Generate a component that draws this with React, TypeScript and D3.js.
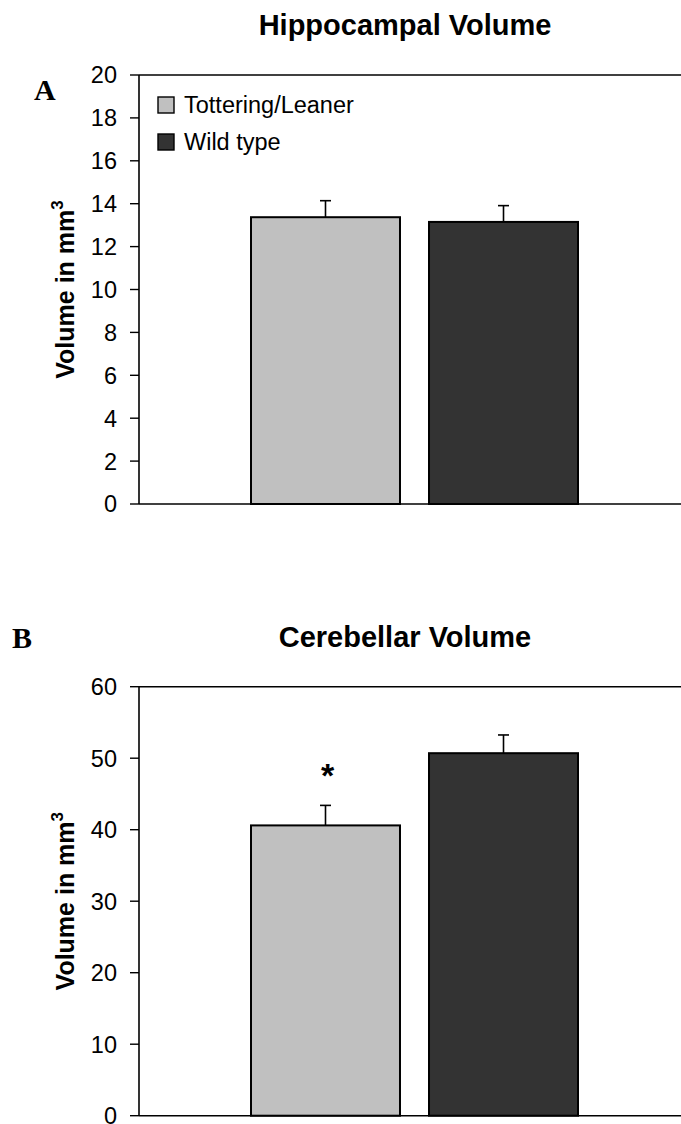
import React from "react";
import * as d3 from "d3";

const series = ["Tottering/Leaner", "Wild type"];
const seriesColors = ["#c0c0c0", "#333333"];

const hippoMeans = [13.37, 13.15];
const hippoErrors = [0.77, 0.76];
const hippoTicks = [0, 2, 4, 6, 8, 10, 12, 14, 16, 18, 20];
const hippoMarks = ["", ""];

const cerebMeans = [40.6, 50.7];
const cerebErrors = [2.8, 2.55];
const cerebTicks = [0, 10, 20, 30, 40, 50, 60];
const cerebMarks = ["*", ""];

const W = 681;
const H = 1124;
const SANS = "'Liberation Sans', Arial, sans-serif";
const SERIF = "'Liberation Serif', 'Times New Roman', serif";

type PanelProps = {
  title: string;
  letter: string;
  letterX: number;
  letterY: number;
  titleY: number;
  top: number;
  bottom: number;
  means: number[];
  errors: number[];
  ticks: number[];
  marks: string[];
  legend: boolean;
};

function Panel(p: PanelProps) {
  const left = 139;
  const right = 690;
  const y = d3
    .scaleLinear()
    .domain([0, d3.max(p.ticks) as number])
    .range([p.bottom, p.top]);
  const x = d3
    .scaleBand<string>()
    .domain(series)
    .range([251, 578])
    .paddingInner(0.163);
  const bw = x.bandwidth();
  return (
    <g>
      <text
        x={p.letterX}
        y={p.letterY}
        fontFamily={SERIF}
        fontWeight="bold"
        fontSize={30}
        fill="#000"
      >
        {p.letter}
      </text>
      <text
        x={405}
        y={p.titleY}
        textAnchor="middle"
        fontFamily={SANS}
        fontWeight="bold"
        fontSize={29}
        fill="#000"
      >
        {p.title}
      </text>
      {/* axis title */}
      <text
        transform={`translate(74,${(p.top + p.bottom) / 2}) rotate(-90)`}
        textAnchor="middle"
        fontFamily={SANS}
        fontWeight="bold"
        fontSize={25}
        fill="#000"
      >
        Volume in mm<tspan dy={-11} fontSize={17}>3</tspan>
      </text>
      {/* bars */}
      {series.map((s, i) => {
        const x0 = x(s) as number;
        const yTop = y(p.means[i]);
        const yErr = y(p.means[i] + p.errors[i]);
        const cx = x0 + bw / 2;
        return (
          <g key={s}>
            <rect
              x={x0}
              y={yTop}
              width={bw}
              height={p.bottom - yTop}
              fill={seriesColors[i]}
              stroke="#000"
              strokeWidth={2}
            />
            <line x1={cx} x2={cx} y1={yTop} y2={yErr} stroke="#000" strokeWidth={1.6} />
            <line x1={cx - 5.5} x2={cx + 5.5} y1={yErr} y2={yErr} stroke="#000" strokeWidth={1.6} />
            {p.marks[i] ? (
              <text
                x={cx + 2}
                y={yErr - 18}
                textAnchor="middle"
                fontFamily={SANS}
                fontWeight="bold"
                fontSize={34}
                fill="#000"
              >
                {p.marks[i]}
              </text>
            ) : null}
          </g>
        );
      })}
      {/* frame */}
      <line x1={left} x2={right} y1={p.top} y2={p.top} stroke="#000" strokeWidth={1.6} />
      <line x1={left} x2={right} y1={p.bottom} y2={p.bottom} stroke="#000" strokeWidth={1.6} />
      <line x1={left} x2={left} y1={p.top} y2={p.bottom} stroke="#000" strokeWidth={1.6} />
      {/* ticks */}
      {p.ticks.map((t) => (
        <g key={t}>
          <line x1={130} x2={left} y1={y(t)} y2={y(t)} stroke="#000" strokeWidth={1.4} />
          <text
            x={117}
            y={y(t)}
            dy="0.36em"
            textAnchor="end"
            fontFamily={SANS}
            fontSize={23.5}
            fill="#000"
          >
            {t}
          </text>
        </g>
      ))}
      {p.legend
        ? series.map((s, i) => (
            <g key={"lg" + s}>
              <rect
                x={158}
                y={97 + i * 37}
                width={16}
                height={16}
                fill={seriesColors[i]}
                stroke="#000"
                strokeWidth={1.4}
              />
              <text
                x={184}
                y={105 + i * 37}
                dy="0.36em"
                fontFamily={SANS}
                fontSize={23.5}
                fill="#000"
              >
                {s}
              </text>
            </g>
          ))
        : null}
    </g>
  );
}

export default function App() {
  return (
    <svg
      width={W}
      height={H}
      style={{ position: "absolute", left: 0, top: 0, background: "#fff" }}
    >
      <rect x={0} y={0} width={W} height={H} fill="#fff" />
      <Panel
        title="Hippocampal Volume"
        letter="A"
        letterX={34}
        letterY={100}
        titleY={35}
        top={75}
        bottom={504}
        means={hippoMeans}
        errors={hippoErrors}
        ticks={hippoTicks}
        marks={hippoMarks}
        legend={true}
      />
      <Panel
        title="Cerebellar Volume"
        letter="B"
        letterX={12}
        letterY={648}
        titleY={647}
        top={686.7}
        bottom={1115.7}
        means={cerebMeans}
        errors={cerebErrors}
        ticks={cerebTicks}
        marks={cerebMarks}
        legend={false}
      />
    </svg>
  );
}
